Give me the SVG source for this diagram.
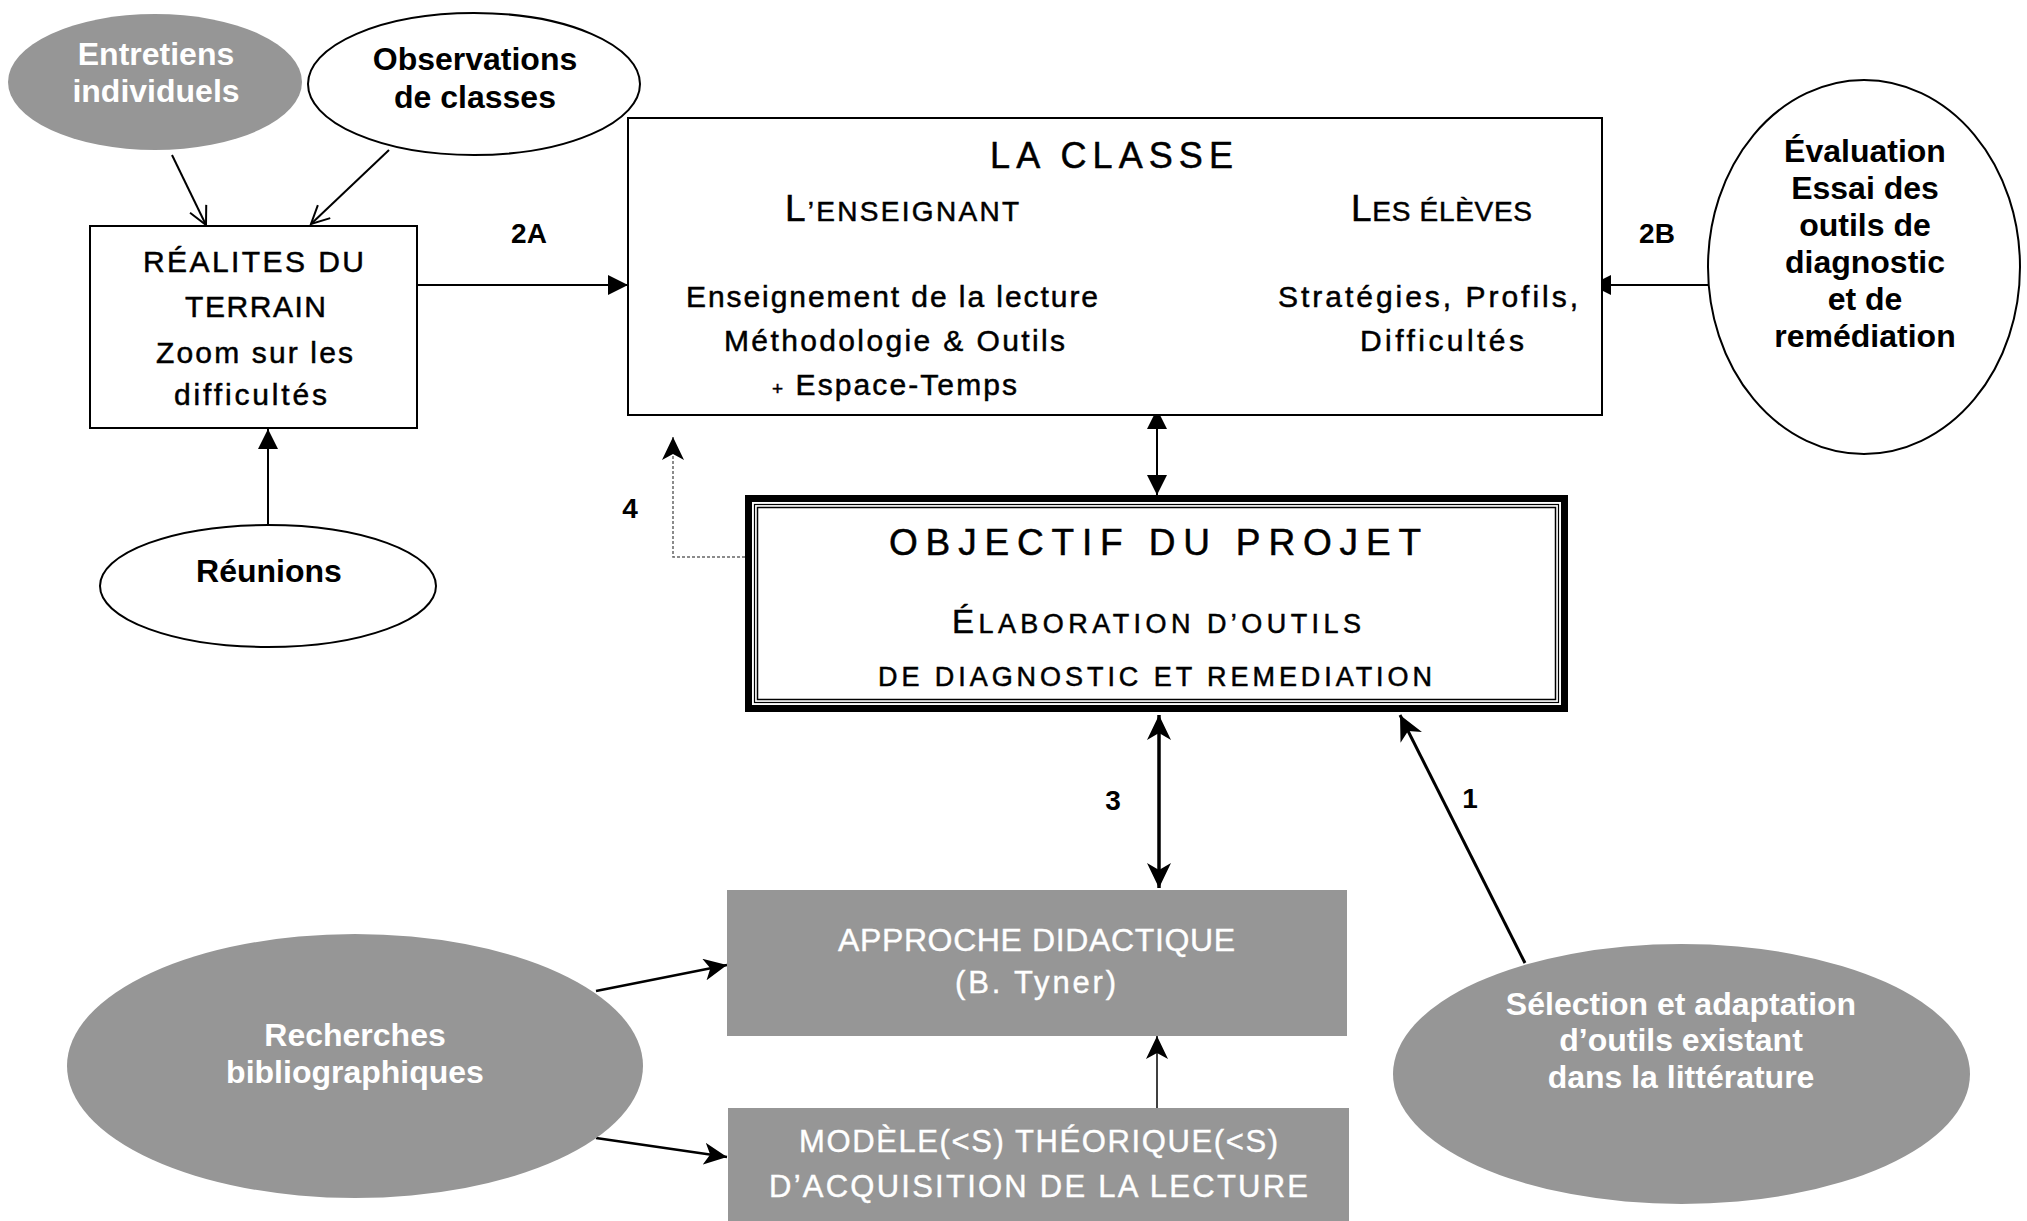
<svg xmlns="http://www.w3.org/2000/svg" width="2027" height="1221" viewBox="0 0 2027 1221">
<style>
.el-w{fill:#fff;stroke:#000;stroke-width:2}
.el-g{fill:#969696;stroke:none}
.box{fill:#fff;stroke:#000;stroke-width:2}
.gbox{fill:#969696;stroke:none}
.eb{font-family:"Liberation Sans",Arial,sans-serif;font-weight:bold;font-size:32px;text-anchor:middle}
.wt{fill:#fff}
.bx{font-family:"Liberation Sans",Arial,sans-serif;fill:#000;stroke:#000;stroke-width:0.5px}
.gx{font-family:"Liberation Sans",Arial,sans-serif;fill:#fff;stroke:#fff;stroke-width:0.4px}
.lbl{font-family:"Liberation Sans",Arial,sans-serif;font-weight:bold;font-size:28px;text-anchor:middle}
.ln{fill:none;stroke:#000}
</style>
<defs>
<marker id="tri" markerUnits="userSpaceOnUse" markerWidth="20" markerHeight="20" refX="20" refY="10" orient="auto-start-reverse"><path d="M0,0 L20,10 L0,20 Z" fill="#000"/></marker>
<marker id="stl" markerUnits="userSpaceOnUse" markerWidth="24" markerHeight="22" refX="23" refY="11" orient="auto-start-reverse"><path d="M0,0 L23,11 L0,22 L6,11 Z" fill="#000"/></marker>
<marker id="stlb" markerUnits="userSpaceOnUse" markerWidth="26" markerHeight="24" refX="25" refY="12" orient="auto-start-reverse"><path d="M0,0 L25,12 L0,24 L7,12 Z" fill="#000"/></marker>
<marker id="vee" markerUnits="userSpaceOnUse" markerWidth="22" markerHeight="22" refX="19" refY="10" orient="auto"><path d="M1,1 L19,10 L1,19" fill="none" stroke="#000" stroke-width="2"/></marker>
</defs>
<rect x="0" y="0" width="2027" height="1221" fill="#fff"/>

<g id="connectors">
<path class="ln" style="stroke-width:2px" d="M172,155 L206,225" marker-end="url(#vee)"/>
<path class="ln" style="stroke-width:2px" d="M389,150 L311,224" marker-end="url(#vee)"/>
<path class="ln" style="stroke-width:2px" d="M268,525 V429" marker-end="url(#tri)"/>
<path class="ln" style="stroke-width:2px" d="M411,285 H628" marker-end="url(#tri)"/>
<path class="ln" style="stroke-width:2px" d="M1708,285 H1591" marker-end="url(#tri)"/>
<path class="ln" style="stroke-width:2px" d="M1157,409 V495" marker-start="url(#tri)" marker-end="url(#tri)"/>
<path d="M745,557 H673 V437" fill="none" stroke="#666" stroke-width="1.5" stroke-dasharray="3,2" marker-end="url(#stl)"/>
<path class="ln" style="stroke-width:3.5px" d="M1159,715 V888" marker-start="url(#stlb)" marker-end="url(#stlb)"/>
<path class="ln" style="stroke-width:3px" d="M1525,963 L1400,715" marker-end="url(#stlb)"/>
<path class="ln" style="stroke-width:1.5px" d="M1157,1108 V1036" marker-end="url(#stl)"/>
<path class="ln" style="stroke-width:2.5px" d="M596,991 L727,965" marker-end="url(#stl)"/>
<path class="ln" style="stroke-width:2.5px" d="M596,1138 L727,1157" marker-end="url(#stl)"/>
</g>

<g id="labels">
<text class="lbl" x="529" y="243">2A</text>
<text class="lbl" x="1657" y="243">2B</text>
<text class="lbl" x="630" y="518">4</text>
<text class="lbl" x="1113" y="810">3</text>
<text class="lbl" x="1470" y="808">1</text>
</g>

<g id="entretiens">
<ellipse class="el-g" cx="155" cy="82" rx="147" ry="68"/>
<text class="eb wt" x="156" y="65">Entretiens</text>
<text class="eb wt" x="156" y="102">individuels</text>
</g>

<g id="observations">
<ellipse class="el-w" cx="474" cy="84" rx="166" ry="71"/>
<text class="eb" x="475" y="70">Observations</text>
<text class="eb" x="475" y="108">de classes</text>
</g>

<g id="realites">
<rect class="box" x="90" y="226" width="327" height="202"/>
<text class="bx" style="font-size:30px" x="143" y="272" textLength="221" lengthAdjust="spacing">RÉALITES DU</text>
<text class="bx" style="font-size:30px" x="185" y="317" textLength="141" lengthAdjust="spacing">TERRAIN</text>
<text class="bx" style="font-size:30px" x="156" y="363" textLength="197" lengthAdjust="spacing">Zoom sur les</text>
<text class="bx" style="font-size:30px" x="174" y="405" textLength="153" lengthAdjust="spacing">difficultés</text>
</g>

<g id="reunions">
<ellipse class="el-w" cx="268" cy="586" rx="168" ry="61"/>
<text class="eb" x="269" y="582">Réunions</text>
</g>

<g id="la-classe">
<rect class="box" x="628" y="118" width="974" height="297"/>
<text class="bx" style="font-size:36px" x="990" y="168" textLength="243" lengthAdjust="spacing">LA CLASSE</text>
<text class="bx" style="font-size:28px" x="785" y="221" textLength="234" lengthAdjust="spacing"><tspan style="font-size:37px">L</tspan>’ENSEIGNANT</text>
<text class="bx" style="font-size:28px" x="1351" y="221" textLength="181" lengthAdjust="spacing"><tspan style="font-size:37px">L</tspan>ES ÉLÈVES</text>
<text class="bx" style="font-size:30px" x="686" y="307" textLength="412" lengthAdjust="spacing">Enseignement de la lecture</text>
<text class="bx" style="font-size:30px" x="724" y="351" textLength="341" lengthAdjust="spacing">Méthodologie &amp; Outils</text>
<text class="bx" style="font-size:30px" x="772" y="395" textLength="245" lengthAdjust="spacing"><tspan style="font-size:19px">+</tspan> Espace-Temps</text>
<text class="bx" style="font-size:30px" x="1278" y="307" textLength="300" lengthAdjust="spacing">Stratégies, Profils,</text>
<text class="bx" style="font-size:30px" x="1360" y="351" textLength="164" lengthAdjust="spacing">Difficultés</text>
</g>

<g id="evaluation">
<ellipse class="el-w" cx="1864" cy="267" rx="156" ry="187"/>
<text class="eb" x="1865" y="162">Évaluation</text>
<text class="eb" x="1865" y="199">Essai des</text>
<text class="eb" x="1865" y="236">outils de</text>
<text class="eb" x="1865" y="273">diagnostic</text>
<text class="eb" x="1865" y="310">et de</text>
<text class="eb" x="1865" y="347">remédiation</text>
</g>

<g id="objectif">
<rect x="748.5" y="498.5" width="816" height="210" fill="#fff" stroke="#000" stroke-width="7"/>
<rect x="754.5" y="504.5" width="804" height="198" fill="none" stroke="#000" stroke-width="1.2"/>
<rect x="757.5" y="507.5" width="798" height="192" fill="none" stroke="#000" stroke-width="1.5"/>
<text class="bx" style="font-size:37px" x="889" y="555" textLength="532" lengthAdjust="spacing">OBJECTIF DU PROJET</text>
<text class="bx" style="font-size:27px" x="952" y="633" textLength="409" lengthAdjust="spacing"><tspan style="font-size:33px">É</tspan>LABORATION D’OUTILS</text>
<text class="bx" style="font-size:27px" x="878" y="686" textLength="554" lengthAdjust="spacing">DE DIAGNOSTIC ET REMEDIATION</text>
</g>

<g id="approche">
<rect class="gbox" x="727" y="890" width="620" height="146"/>
<text class="gx" style="font-size:32px" x="838" y="951" textLength="397" lengthAdjust="spacing">APPROCHE DIDACTIQUE</text>
<text class="gx" style="font-size:31px" x="955" y="993" textLength="161" lengthAdjust="spacing">(B. Tyner)</text>
</g>

<g id="modele">
<rect class="gbox" x="728" y="1108" width="621" height="113"/>
<text class="gx" style="font-size:31px" x="799" y="1152" textLength="479" lengthAdjust="spacing">MODÈLE(&lt;S) THÉORIQUE(&lt;S)</text>
<text class="gx" style="font-size:31px" x="769" y="1197" textLength="539" lengthAdjust="spacing">D’ACQUISITION DE LA LECTURE</text>
</g>

<g id="recherches">
<ellipse class="el-g" cx="355" cy="1066" rx="288" ry="132"/>
<text class="eb wt" x="355" y="1046">Recherches</text>
<text class="eb wt" x="355" y="1083">bibliographiques</text>
</g>

<g id="selection">
<ellipse class="el-g" cx="1681.5" cy="1074" rx="288.5" ry="130"/>
<text class="eb wt" x="1681" y="1015">Sélection et adaptation</text>
<text class="eb wt" x="1681" y="1051">d’outils existant</text>
<text class="eb wt" x="1681" y="1088">dans la littérature</text>
</g>
</svg>
